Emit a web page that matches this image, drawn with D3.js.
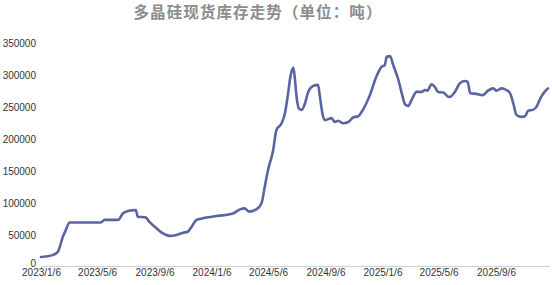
<!DOCTYPE html>
<html>
<head>
<meta charset="utf-8">
<script src="https://cdn.jsdelivr.net/npm/d3@7"></script>
<style>
  html, body { margin: 0; padding: 0; background: #fff; }
  svg { display: block; }
</style>
</head>
<body>
<svg id="chart" width="552" height="285"></svg>
<script>
const title = "多晶硅现货库存走势（单位：吨）";
const dates = [
  "2023-01-06","2023-01-31","2023-02-11","2023-02-22","2023-02-28","2023-03-08","2023-05-14","2023-05-22",
  "2023-06-20","2023-06-30","2023-07-11","2023-07-28","2023-08-01","2023-08-18","2023-08-26","2023-09-07",
  "2023-09-24","2023-10-09","2023-10-23","2023-11-06","2023-11-16","2023-11-24","2023-12-05","2023-12-18",
  "2024-01-17","2024-02-21","2024-03-07","2024-03-17","2024-03-26","2024-04-11","2024-04-22","2024-04-29",
  "2024-05-06","2024-05-17","2024-05-24","2024-06-04","2024-06-11","2024-06-18","2024-06-23","2024-06-29",
  "2024-07-02","2024-07-06","2024-07-11","2024-07-17","2024-07-24","2024-07-31","2024-08-10","2024-08-21",
  "2024-08-25","2024-08-31","2024-09-05","2024-09-19","2024-09-26","2024-10-03","2024-10-14","2024-10-25",
  "2024-11-04","2024-11-15","2024-11-25","2024-12-10","2024-12-24","2025-01-04","2025-01-11","2025-01-15",
  "2025-01-22","2025-01-29","2025-02-09","2025-02-18","2025-02-23","2025-03-02","2025-03-09","2025-03-20",
  "2025-03-31","2025-04-07","2025-04-12","2025-04-21","2025-04-28","2025-05-05","2025-05-16","2025-05-29",
  "2025-06-10","2025-06-20","2025-07-01","2025-07-07","2025-07-13","2025-07-26","2025-08-09","2025-08-20",
  "2025-08-31","2025-09-07","2025-09-18","2025-09-28","2025-10-06","2025-10-13","2025-10-20","2025-10-31",
  "2025-11-07","2025-11-14","2025-11-24","2025-12-02","2025-12-10","2025-12-19","2025-12-26"
];
const inventory = [
  14000,17000,22000,46000,56000,68000,68000,72000,
  72000,82000,86000,87500,77000,76000,69000,61000,
  51000,47000,48500,52000,53600,61000,72000,74500,
  78000,82000,88500,90000,85000,88500,98000,124000,
  150000,181000,212500,223000,238000,270000,296000,310000,
  296000,265000,246000,244000,254000,272000,281000,283000,
  265000,236000,228000,231000,225000,227000,223000,225000,
  232000,234000,244000,267000,296000,311000,314000,327000,
  328000,314000,291000,265000,253000,250000,259000,272000,
  272000,275000,274000,284000,280000,272000,271000,264000,
  272000,285000,289000,288000,270000,269000,267000,274000,
  277500,274000,277500,275000,270000,254000,236000,233000,
  234000,242500,244000,249000,262000,272000,277500
];
const xTickLabels = ["2023/1/6","2023/5/6","2023/9/6","2024/1/6","2024/5/6","2024/9/6","2025/1/6","2025/5/6","2025/9/6"];
const yTicks = [0,50000,100000,150000,200000,250000,300000,350000];

const parse = d3.timeParse("%Y-%m-%d");
const data = dates.map((d, i) => ({ date: parse(d), value: inventory[i] }));
const tickDates = xTickLabels.map(s => {
  const [y, m, d] = s.split("/");
  return new Date(+y, +m - 1, +d);
});

const svg = d3.select("#chart");
const x = d3.scaleTime().domain([tickDates[0], tickDates[tickDates.length - 1]]).range([41, 496]);
const y = d3.scaleLinear().domain([0, 350000]).range([266, 42]);

// title
svg.append("text")
  .attr("x", 258).attr("y", 18)
  .attr("text-anchor", "middle")
  .attr("font-family", "'Noto Sans CJK SC', sans-serif")
  .attr("font-size", 15.5)
  .attr("font-weight", "bold")
  .attr("fill", "#8c8c8c")
  .style("letter-spacing", "1.1px")
  .text(title);

// x axis
const xAxis = d3.axisBottom(x)
  .tickValues(tickDates)
  .tickSize(4)
  .tickFormat((d, i) => xTickLabels[i]);
const gx = svg.append("g").attr("transform", "translate(0,266)").call(xAxis);
gx.select(".domain").remove();
gx.selectAll(".tick line").attr("stroke", "#d0d0d0");
gx.selectAll(".tick text")
  .attr("font-family", "'Liberation Sans', Arial, sans-serif")
  .attr("font-size", 10)
  .attr("fill", "#333")
  .attr("y", 6)
  .attr("dy", "0.4em");
svg.append("line")
  .attr("x1", 41).attr("x2", 550)
  .attr("y1", 266.5).attr("y2", 266.5)
  .attr("stroke", "#d0d0d0");

// y axis
const yAxis = d3.axisLeft(y).tickValues(yTicks).tickSize(0).tickFormat(d3.format("d"));
const gy = svg.append("g").attr("transform", "translate(36,0)").call(yAxis);
gy.select(".domain").remove();
gy.selectAll(".tick text")
  .attr("font-family", "'Liberation Sans', Arial, sans-serif")
  .attr("font-size", 10)
  .attr("fill", "#333")
  .attr("x", 0)
  .attr("y", d => d === 0 ? -3 : 1);

// line
const line = d3.line()
  .x(d => x(d.date))
  .y(d => y(d.value))
  .curve(d3.curveMonotoneX);
svg.append("path")
  .datum(data)
  .attr("d", line)
  .attr("fill", "none")
  .attr("stroke", "#5a64a3")
  .attr("stroke-width", 2.6)
  .attr("stroke-linejoin", "round")
  .attr("stroke-linecap", "round");
</script>
</body>
</html>
